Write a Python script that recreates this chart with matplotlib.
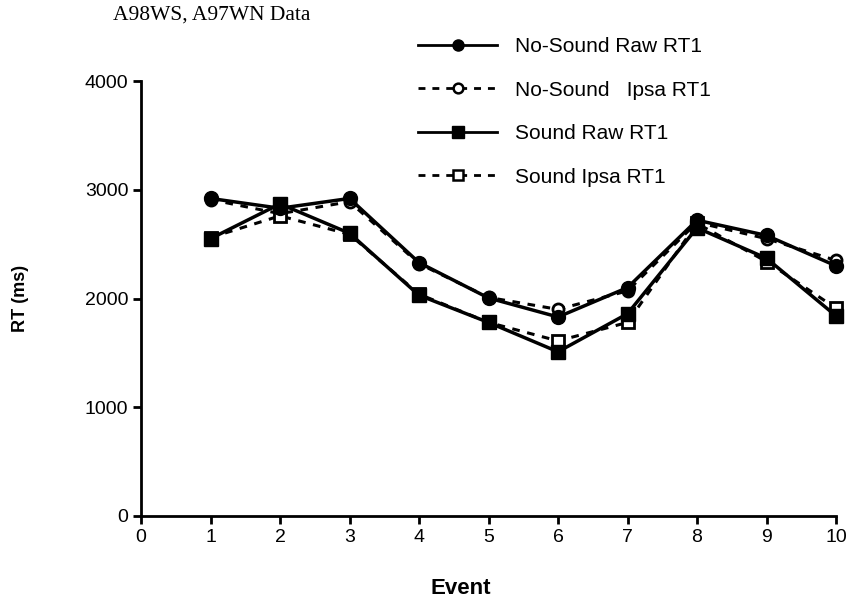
import numpy as np
import matplotlib.pyplot as plt
from matplotlib.lines import Line2D

events = [1, 2, 3, 4, 5, 6, 7, 8, 9, 10]
nosound_raw = [2920, 2830, 2920, 2330, 2005, 1830, 2100, 2720, 2580, 2300]
nosound_ipsa = [2910, 2780, 2890, 2320, 2010, 1900, 2070, 2700, 2550, 2350]
sound_raw = [2550, 2870, 2600, 2030, 1780, 1510, 1860, 2650, 2370, 1840]
sound_ipsa = [2560, 2760, 2590, 2040, 1780, 1610, 1780, 2690, 2340, 1910]

labels = ["No-Sound Raw RT1", "No-Sound   Ipsa RT1", "Sound Raw RT1", "Sound Ipsa RT1"]

plt.rcParams['font.family'] = ['Liberation Sans', 'DejaVu Sans']

fig = plt.figure(figsize=(8.49, 6.03), dpi=100)
ax = fig.add_axes([141/849, 1 - 516/603, (836-141)/849, (516-81)/603])

dash = (0, (2.5, 2.5))
# dashed (ipsa) first so the raw markers sit on top
ax.plot(events, nosound_ipsa, color='black', lw=2.2, ls=dash, marker='o', ms=8,
        mfc='white', mec='black', mew=2, clip_on=False)
ax.plot(events, sound_ipsa, color='black', lw=2.2, ls=dash, marker='s', ms=8,
        mfc='white', mec='black', mew=2, clip_on=False)
ax.plot(events, nosound_raw, color='black', lw=2.5, marker='o', ms=10,
        clip_on=False)
ax.plot(events, sound_raw, color='black', lw=2.5, marker='s', ms=9.5,
        clip_on=False)

ax.set_xlim(0, 10)
ax.set_ylim(0, 4000)
ax.set_xticks(range(0, 11))
ax.set_yticks([0, 1000, 2000, 3000, 4000])
ax.spines['top'].set_visible(False)
ax.spines['right'].set_visible(False)
for s in ['left', 'bottom']:
    ax.spines[s].set_linewidth(2)
ax.tick_params(direction='out', length=6, width=2, labelsize=14, pad=3)

ax.set_ylabel("RT (ms)", fontsize=13, fontweight='bold', labelpad=40)
fig.text(461/849, 1 - 589/603, "Event", fontsize=16, fontweight='bold',
         ha='center', va='center')

fig.text(113/849, 1 - 15/603, "A98WS, A97WN Data", family='Liberation Serif',
         fontsize=15.5, va='center', ha='left')

handles = [
    Line2D([], [], color='black', lw=2, marker='o', ms=8),
    Line2D([], [], color='black', lw=2, ls=dash, marker='o', ms=7, mfc='white', mew=1.8),
    Line2D([], [], color='black', lw=2, marker='s', ms=8),
    Line2D([], [], color='black', lw=2, ls=dash, marker='s', ms=7, mfc='white', mew=1.8),
]
fig.legend(handles, labels, loc='upper left', bbox_to_anchor=(418/849, 1 - 37/603),
           frameon=False, fontsize=15, handlelength=3.8, labelspacing=1.18,
           handletextpad=0.85, borderpad=0, borderaxespad=0)

fig.savefig("out.png", dpi=100)
